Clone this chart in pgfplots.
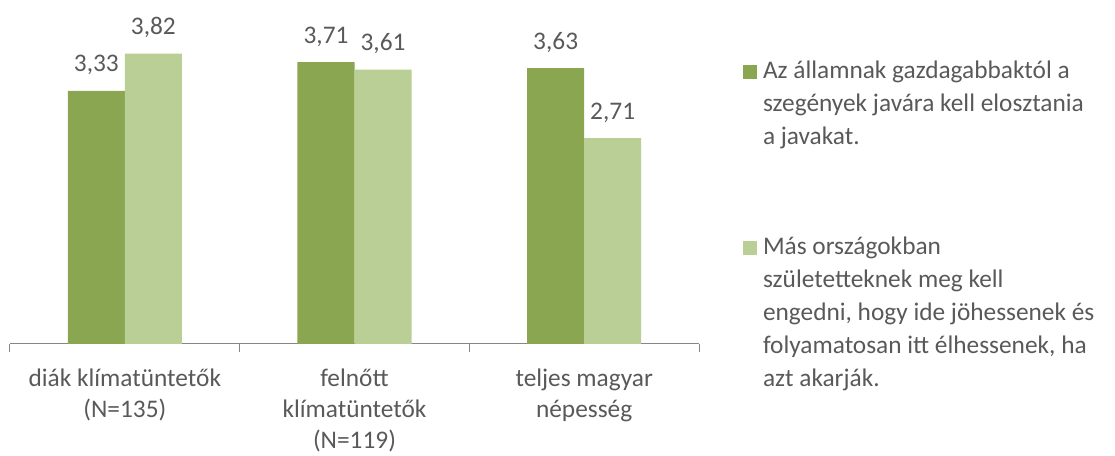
\documentclass[border=0pt]{standalone}
\usepackage{pgfplots}
\pgfplotsset{compat=1.18}
\usepackage{fontspec}
\setmainfont{Carlito}
\definecolor{dg}{RGB}{138,166,80}
\definecolor{lg}{RGB}{185,207,150}
\definecolor{txt}{RGB}{89,89,89}
\definecolor{axg}{RGB}{134,134,134}
\begin{document}
\begin{tikzpicture}
\path[use as bounding box] (0,0) rectangle (836.25pt,342pt);
\begin{axis}[
  at={(7.5pt,84pt)}, anchor=south west,
  scale only axis, width=516.75pt, height=256.5pt,
  xmin=-0.5, xmax=2.5, ymin=0, ymax=4.5,
  axis x line=bottom, hide y axis,
  x axis line style={draw=axg, line width=0.75pt, -},
  xtick={-0.5,0.5,1.5,2.5}, x tick label as interval,
  xticklabels={{diák klímatüntetők\\(N=135)},{felnőtt\\klímatüntetők\\(N=119)},{teljes magyar\\népesség}},
  tick align=outside, major tick length=6pt,
  xtick style={draw=axg, line width=0.75pt},
  x tick label style={align=center, anchor=north, inner sep=0pt, text=txt, yshift=-12.75pt,
    font=\fontsize{19}{23.25}\selectfont},
  ybar=0pt, bar width=42.75pt,
  nodes near coords,
  every node near coord/.append style={font=\fontsize{19}{24}\selectfont, text=txt, anchor=south, text depth=0pt, inner sep=0pt, yshift=14pt},
  /pgf/number format/.cd, use comma, fixed, fixed zerofill, precision=2, assume math mode=true,
  /pgfplots/.cd,
  legend style={draw=none, fill=none, inner sep=0pt, outer sep=0pt,
    at={(axis description cs:1.0639,0.828)}, anchor=north west,
    column sep=4.5pt, row sep=68pt,
    nodes={align=left, anchor=north west, inner sep=0pt, text=txt, font=\fontsize{19}{24.75}\selectfont}},
]
\addplot[fill=dg, draw=none, legend image code/.code={\fill[dg] (0pt,-13.8pt) rectangle (10.5pt,-2.8pt);}]
  coordinates {(0,3.33) (1,3.71) (2,3.63)};
\addplot[fill=lg, draw=none, legend image code/.code={\fill[lg] (0pt,-13.8pt) rectangle (10.5pt,-2.8pt);}]
  coordinates {(0,3.82) (1,3.61) (2,2.71)};
\addlegendentry{Az államnak gazdagabbaktól a\\szegények javára kell elosztania\\a javakat.}
\addlegendentry{Más országokban\\születetteknek meg kell\\engedni, hogy ide jöhessenek és\\folyamatosan itt élhessenek, ha\\azt akarják.}
\end{axis}
\end{tikzpicture}
\end{document}
